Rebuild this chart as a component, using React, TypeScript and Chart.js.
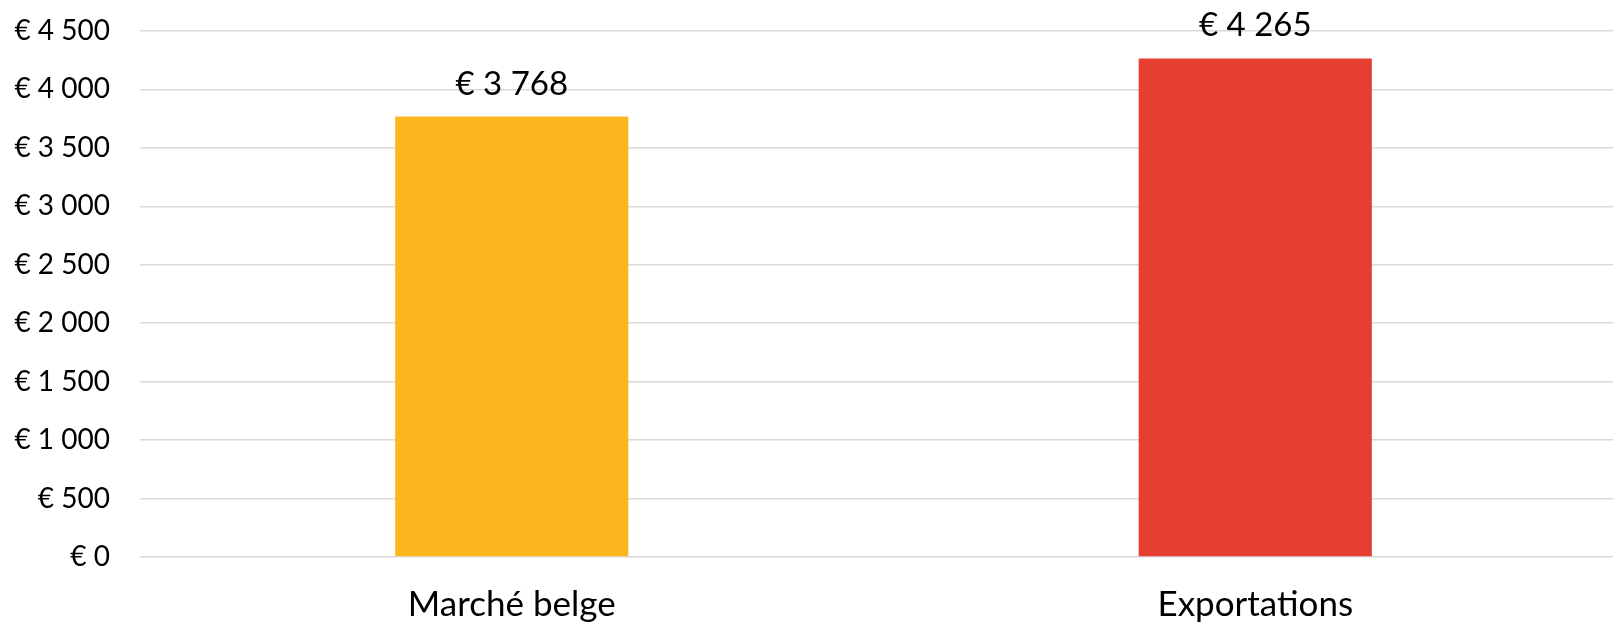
import React, { useEffect, useRef } from "react";
import { Chart, registerables } from "chart.js";

Chart.register(...registerables);

const categories: string[] = ["Marché belge", "Exportations"];
const values: number[] = [3768, 4265];
const barColors: string[] = ["#FDB71E", "#E63E30"];
const yMin = 0;
const yMax = 4500;
const yStep = 500;

const FONT = "Lato, 'Open Sans', sans-serif";

function fmtEuro(v: number): string {
  const s = Math.round(v).toString().replace(/\B(?=(\d{3})+(?!\d))/g, " ");
  return "€ " + s;
}

const valueLabelPlugin = {
  id: "valueLabels",
  afterDatasetsDraw(chart: any) {
    const ctx = chart.ctx;
    const meta = chart.getDatasetMeta(0);
    ctx.save();
    ctx.font = `33px ${FONT}`;
    ctx.fillStyle = "#000000";
    ctx.textAlign = "center";
    ctx.textBaseline = "alphabetic";
    meta.data.forEach((bar: any, i: number) => {
      ctx.fillText(fmtEuro(values[i]), bar.x, bar.y - 22);
    });
    ctx.restore();
  },
};

export default function App() {
  const ref = useRef<HTMLCanvasElement | null>(null);

  useEffect(() => {
    if (!ref.current) return;
    const chart = new Chart(ref.current, {
      type: "bar",
      data: {
        labels: categories,
        datasets: [
          {
            data: values,
            backgroundColor: barColors,
            borderWidth: 0,
            categoryPercentage: 1,
            barPercentage: 0.3136,
          },
        ],
      },
      options: {
        responsive: false,
        animation: false,
        devicePixelRatio: 1,
        layout: { padding: { top: 31, right: 0, left: 0, bottom: 0 } },
        plugins: {
          legend: { display: false },
          tooltip: { enabled: false },
        },
        scales: {
          x: {
            grid: { display: false, drawTicks: false },
            border: { display: false },
            ticks: {
              color: "#000000",
              font: { family: FONT, size: 35 },
              padding: 27,
            },
            afterFit: (s: any) => {
              s.height = 66;
            },
          },
          y: {
            min: yMin,
            max: yMax,
            grid: {
              color: "#d9d9d9",
              lineWidth: 1.5,
              drawTicks: true,
              tickLength: 30,
              tickColor: "rgba(0,0,0,0)",
            },
            border: { display: false },
            ticks: {
              stepSize: yStep,
              color: "#000000",
              font: { family: FONT, size: 28 },
              padding: 0,
              callback: (v: any) => fmtEuro(Number(v)),
            },
            afterFit: (s: any) => {
              s.width = 140;
            },
          },
        },
      },
      plugins: [valueLabelPlugin],
    });
    return () => chart.destroy();
  }, []);

  return (
    <div
      style={{
        position: "absolute",
        left: 0,
        top: 0,
        width: 1613,
        height: 623,
        overflow: "hidden",
        background: "#ffffff",
      }}
    >
      <canvas ref={ref} width={1627} height={623} style={{ display: "block" }} />
    </div>
  );
}
